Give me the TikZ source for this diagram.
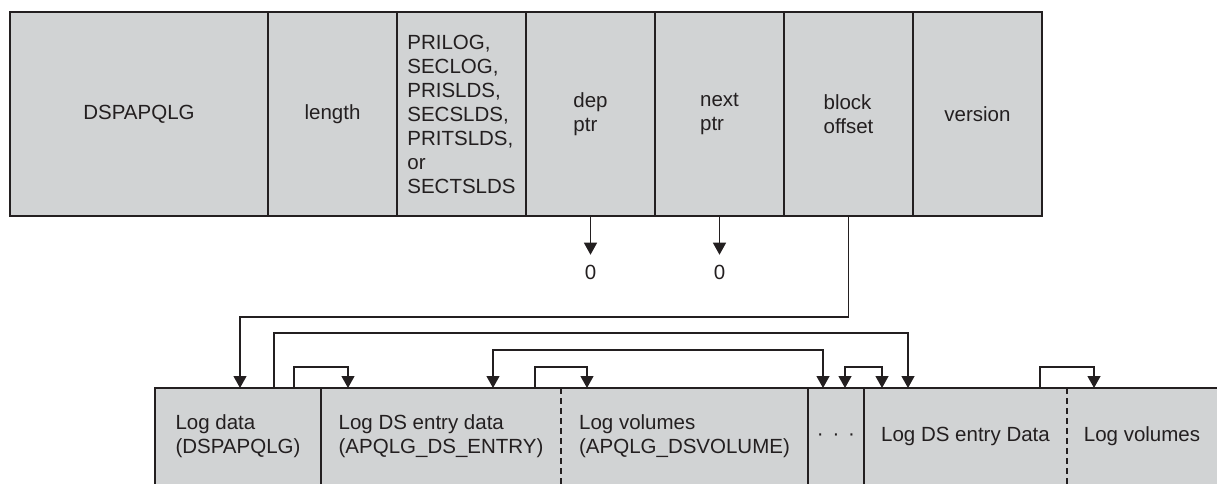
\documentclass[tikz,border=0pt]{standalone}
\usepackage{fontspec}
\setmainfont{Liberation Sans}
\usepackage{tikz}
\usetikzlibrary{positioning, arrows.meta, calc}
\definecolor{cellGray}{RGB}{209,211,212}
\definecolor{lineDark}{RGB}{35,31,32}

\begin{document}
\begin{tikzpicture}[
  x=1pt, y=-1pt, line width=1.2pt, color=lineDark,
  field/.style={draw, fill=cellGray, inner sep=0pt, outer sep=0pt, minimum height=204pt,
                align=left, font=\fontsize{20.5}{24}\selectfont},
  part/.style={fill=cellGray, inner sep=0pt, outer sep=0pt, minimum height=96pt,
               align=left, font=\fontsize{20.5}{24}\selectfont},
  zero/.style={inner sep=0pt, outer sep=10pt, font=\fontsize{20.5}{24}\selectfont},
  ptr/.style={-{Triangle[width=13pt,length=12pt]}},
  ptrboth/.style={{Triangle[width=13pt,length=12pt]}-{Triangle[width=13pt,length=12pt]}},
  dashsep/.style={dash pattern=on 6pt off 4pt},
]
  \useasboundingbox (0,0) rectangle (1217,484);

  % header record
  \node[field, minimum width=258pt, anchor=north west] (dspa) at (10,12) {DSPAPQLG};
  \node[field, minimum width=129pt, right=0pt of dspa] (len) {length};
  \node[field, minimum width=129pt, right=0pt of len] (type)
    {PRILOG,\\SECLOG,\\PRISLDS,\\SECSLDS,\\PRITSLDS,\\or\\SECTSLDS};
  \node[field, minimum width=129pt, right=0pt of type] (dep) {dep\\ptr};
  \node[field, minimum width=129pt, right=0pt of dep] (next) {next\\ptr};
  \node[field, minimum width=129pt, right=0pt of next] (blk) {block\\offset};
  \node[field, minimum width=129pt, right=0pt of blk] (ver) {version};

  \node[zero] (z1) at ($(dep.south)+(0,56)$) {0};
  \node[zero] (z2) at ($(next.south)+(0,56)$) {0};
  \draw[ptr] (dep.south) -- (z1.north);
  \draw[ptr] (next.south) -- (z2.north);

  % log block
  \node[part, minimum width=166pt, anchor=north west] (logd) at (155,388)
    {Log data\\(DSPAPQLG)};
  \node[part, minimum width=240pt, right=0pt of logd] (entry)
    {Log DS entry data\\(APQLG\_DS\_ENTRY)};
  \node[part, minimum width=247pt, right=0pt of entry] (vols)
    {Log volumes\\(APQLG\_DSVOLUME)};
  \node[part, minimum width=56pt, right=0pt of vols] (dots)
    {\vphantom{Lg}·\hspace{8.8pt}·\hspace{8.8pt}·};
  \node[part, minimum width=203pt, right=0pt of dots] (entry2) {Log DS entry Data};
  \node[part, minimum width=150pt, right=0pt of entry2] (vols2) {Log volumes};

  \draw (vols2.north east) -- (logd.north west) -- (logd.south west);
  \draw (entry.north west) -- (entry.south west);
  \draw (dots.north west) -- (dots.south west);
  \draw (entry2.north west) -- (entry2.south west);
  \draw[dashsep] (vols.north west) -- (vols.south west);
  \draw[dashsep] (vols2.north west) -- (vols2.south west);

  \coordinate (a1) at ($(logd.north west)+(85,0)$);
  \coordinate (s2) at ($(logd.north west)+(119,0)$);
  \coordinate (s5) at ($(logd.north west)+(139,0)$);
  \coordinate (a5) at ($(entry.north west)+(27,0)$);
  \coordinate (a3) at ($(entry.north west)+(172,0)$);
  \coordinate (s6) at ($(entry.north west)+(214,0)$);
  \coordinate (a6) at ($(vols.north west)+(26,0)$);
  \coordinate (a4) at ($(dots.north west)+(15,0)$);
  \coordinate (f1) at ($(dots.north west)+(37,0)$);
  \coordinate (f2) at ($(entry2.north west)+(18,0)$);
  \coordinate (a2) at ($(entry2.north west)+(44,0)$);
  \coordinate (s7) at ($(entry2.north west)+(176,0)$);
  \coordinate (a7) at ($(vols2.north west)+(27,0)$);

  \draw[ptr] (blk.south) -- ++(0,101) -| (a1);
  \draw[ptr] (s2) -- ++(0,-55) -| (a2);
  \draw[ptrboth] (a3) -- ++(0,-38) -| (a4);
  \draw[ptr] (s5) -- ++(0,-21) -| (a5);
  \draw[ptr] (s6) -- ++(0,-21) -| (a6);
  \draw[ptrboth] (f1) -- ++(0,-21) -| (f2);
  \draw[ptr] (s7) -- ++(0,-21) -| (a7);
\end{tikzpicture}
\end{document}
